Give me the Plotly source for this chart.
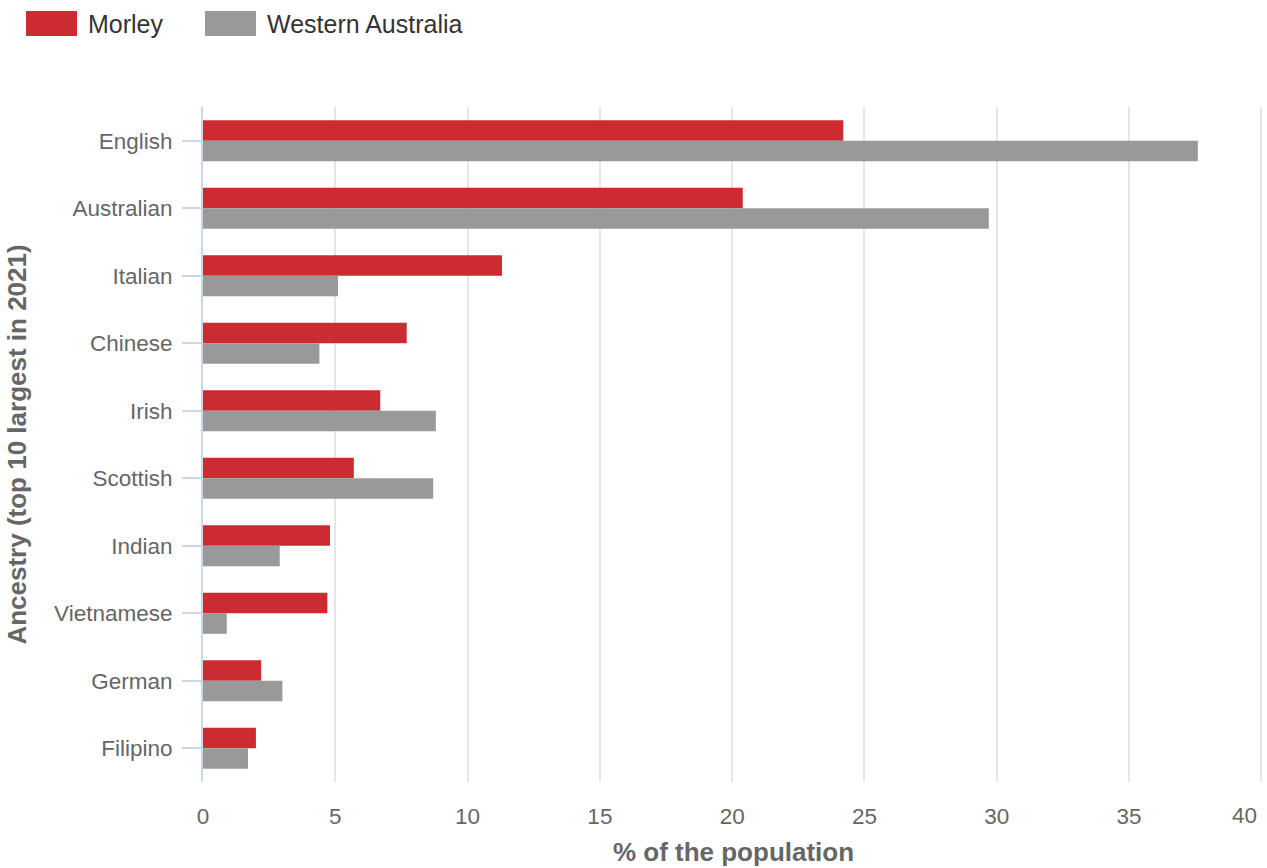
import plotly.graph_objects as go

categories = ["English", "Australian", "Italian", "Chinese", "Irish", "Scottish",
              "Indian", "Vietnamese", "German", "Filipino"]
morley = [24.2, 20.4, 11.3, 7.7, 6.7, 5.7, 4.8, 4.7, 2.2, 2.0]
western_australia = [37.6, 29.7, 5.1, 4.4, 8.8, 8.7, 2.9, 0.9, 3.0, 1.7]
x_ticks = [0, 5, 10, 15, 20, 25, 30, 35, 40]
x_tick_labels = ["0", "5", "10", "15", "20", "25", "30", "35", "40"]

RED = "#cc2b31"
GREY = "#999999"
FONT = "Liberation Sans, Arial, sans-serif"

fig = go.Figure()
fig.add_trace(go.Bar(y=categories, x=morley, name="Morley", orientation="h",
                     marker=dict(color=RED, line=dict(width=0)), showlegend=False))
fig.add_trace(go.Bar(y=categories, x=western_australia, name="Western Australia",
                     orientation="h", marker=dict(color=GREY, line=dict(width=0)),
                     showlegend=False))

fig.update_layout(
    width=1267, height=868,
    margin=dict(l=203, r=3, t=107, b=86, autoexpand=False),
    barmode="group", bargap=0.39, bargroupgap=0,
    plot_bgcolor="white", paper_bgcolor="white",
    font=dict(family=FONT, color="#666666", size=22),
)
# last tick label is drawn right-aligned (like the original) so it stays inside the page
fig.update_xaxes(
    range=[0, 40.1], tickvals=x_ticks, ticktext=x_tick_labels[:-1] + [""],
    ticks="", showline=False,
    showgrid=True, gridcolor="#e6e6e6", gridwidth=2, zeroline=False,
    tickfont=dict(size=22.5, color="#666666"), ticklabelstandoff=18,
    automargin=False,
    title=dict(text="<b>% of the population</b>", font=dict(size=26, color="#666666"), standoff=15),
)
fig.add_annotation(text=x_tick_labels[-1], x=x_ticks[-1], xref="x", y=0, yref="paper",
                   xanchor="right", yanchor="middle", xshift=-2, yshift=-33,
                   showarrow=False, font=dict(size=22.5, color="#666666", family=FONT))
fig.update_yaxes(
    autorange="reversed", showgrid=False, zeroline=False,
    showline=True, linecolor="#ccd6eb", linewidth=2,
    ticks="outside", ticklen=19, tickwidth=2, tickcolor="#ccd6eb",
    tickfont=dict(size=22.5, color="#666666"), ticklabelstandoff=5,
    automargin=False,
    title=dict(text="<b>Ancestry (top 10 largest in 2021)</b>", font=dict(size=26, color="#666666"), standoff=20),
)

# custom legend (plot width in px = 1267 - 203 - 3 = 1061)
PW, PH = 1061, 675
legend_items = [("Morley", RED, 26), ("Western Australia", GREY, 205)]
for name, color, x0 in legend_items:
    fig.add_shape(type="rect", xref="paper", yref="paper",
                  x0=(x0 - 203) / PW, x1=(x0 + 51 - 203) / PW,
                  y0=1 + (107 - 36) / PH, y1=1 + (107 - 11) / PH,
                  fillcolor=color, line=dict(width=0), layer="above")
    fig.add_annotation(text=name, xref="paper", yref="paper",
                       x=(x0 + 60 - 203) / PW, y=1 + (107 - 24) / PH,
                       xanchor="left", yanchor="middle", showarrow=False,
                       font=dict(size=25, color="#333333", family=FONT))

fig.write_html("out.html", config={"displayModeBar": False},
               post_script="document.body.style.margin='0';")
